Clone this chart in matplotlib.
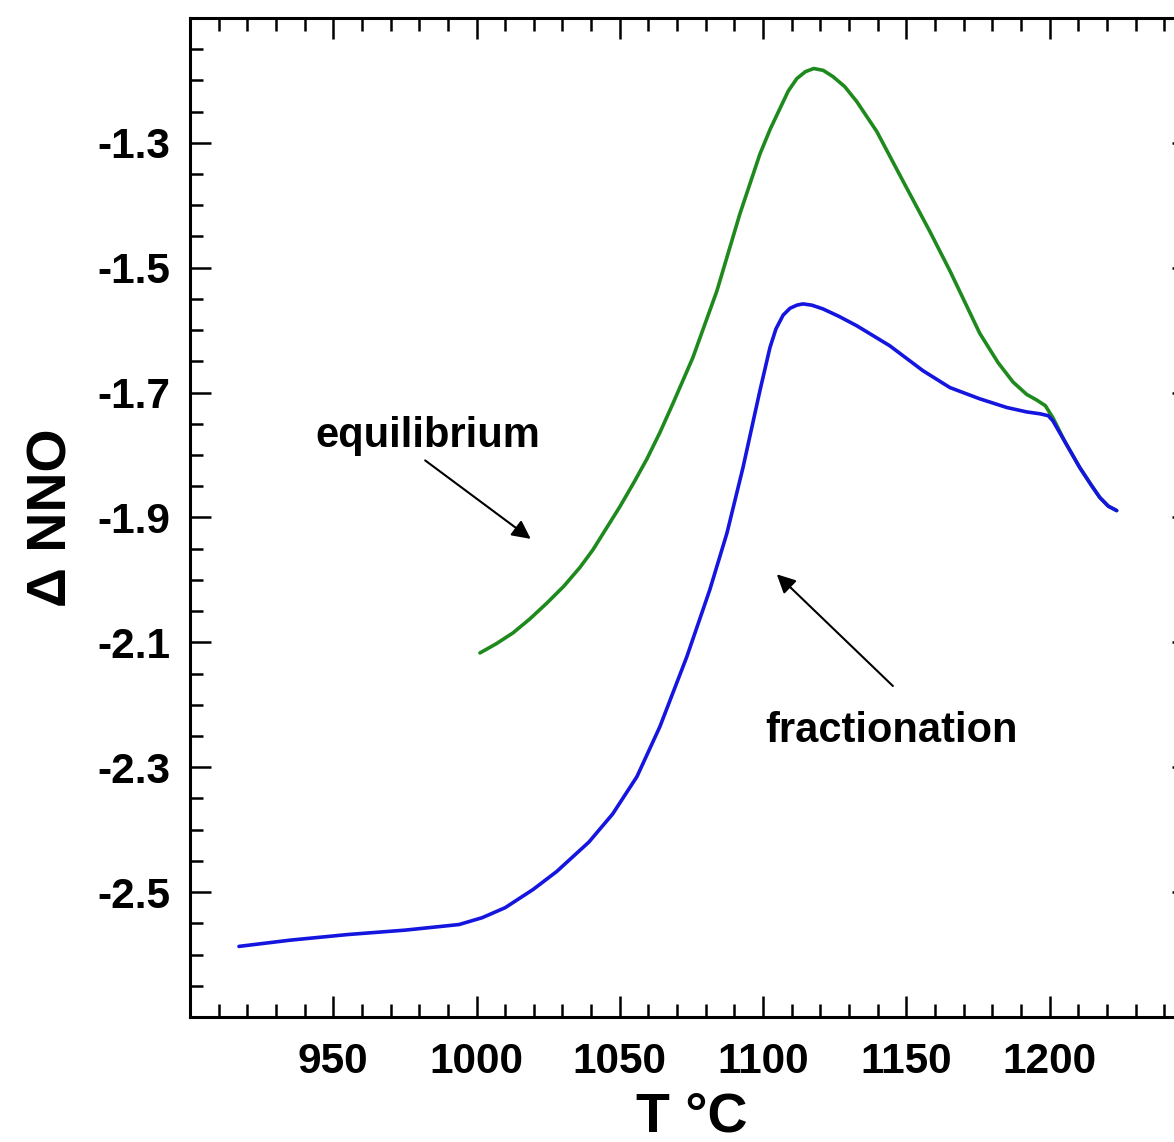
import matplotlib
matplotlib.use("Agg")
import matplotlib.pyplot as plt
from matplotlib.ticker import MultipleLocator

# equilibrium path (green)
eq_T = [1001.2, 1007.0, 1012.7, 1018.5, 1024.6, 1030.5, 1036.1, 1040.6, 1045.5,
        1050.0, 1054.8, 1059.5, 1064.0, 1068.5, 1075.5, 1083.9, 1091.9, 1098.9,
        1102.5, 1105.9, 1108.8, 1111.8, 1114.8, 1117.7, 1121.0, 1124.4, 1128.5,
        1132.7, 1139.7, 1148.8, 1158.2, 1165.2, 1175.6, 1182.0, 1187.2, 1192.0,
        1195.5, 1198.5, 1201.1, 1205.5, 1210.5, 1214.5, 1217.5, 1220.5, 1223.4]
eq_nno = [-2.117, -2.102, -2.085, -2.063, -2.037, -2.010, -1.980, -1.952, -1.916,
          -1.883, -1.845, -1.806, -1.764, -1.718, -1.644, -1.537, -1.414, -1.318,
          -1.278, -1.245, -1.217, -1.197, -1.186, -1.181, -1.184, -1.194, -1.210,
          -1.234, -1.282, -1.361, -1.442, -1.505, -1.605, -1.652, -1.683, -1.703,
          -1.712, -1.721, -1.740, -1.780, -1.820, -1.848, -1.868, -1.882, -1.889]

# fractional crystallisation path (blue)
fr_T = [917.1, 935.0, 955.1, 975.0, 993.9, 1002.0, 1010.0, 1019.7, 1028.0,
        1039.2, 1047.5, 1056.0, 1064.0, 1073.4, 1081.4, 1087.4, 1093.0, 1098.9,
        1102.4, 1104.5, 1107.0, 1109.4, 1111.8, 1113.9, 1117.0, 1120.9, 1126.5,
        1132.7, 1144.2, 1155.8, 1165.2, 1175.6, 1185.1, 1192.0, 1196.6, 1199.5,
        1201.1, 1205.5, 1210.5, 1214.5, 1217.5, 1220.5, 1223.4]
fr_nno = [-2.587, -2.577, -2.568, -2.561, -2.552, -2.541, -2.525, -2.496, -2.467,
          -2.420, -2.375, -2.315, -2.235, -2.123, -2.016, -1.925, -1.820, -1.697,
          -1.628, -1.598, -1.576, -1.565, -1.560, -1.558, -1.560, -1.566, -1.578,
          -1.593, -1.625, -1.665, -1.692, -1.710, -1.724, -1.731, -1.734, -1.737,
          -1.745, -1.780, -1.820, -1.848, -1.868, -1.882, -1.889]

x_ticks = [950, 1000, 1050, 1100, 1150, 1200]
y_ticks = [-2.5, -2.3, -2.1, -1.9, -1.7, -1.5, -1.3]
y_ticklabels = ["-2.5", "-2.3", "-2.1", "-1.9", "-1.7", "-1.5", "-1.3"]

plt.rcParams["font.family"] = ["Liberation Sans", "DejaVu Sans"]
plt.rcParams["font.weight"] = "bold"
plt.rcParams["axes.unicode_minus"] = False

fig = plt.figure(figsize=(11.74, 11.42), dpi=100)
# right spine sits just past the figure edge, as in the cropped original
ax = fig.add_axes([0.1618, 0.1095, 0.8543, 0.8748])

ax.plot(eq_T, eq_nno, color="#1e8a1e", lw=2.6, solid_joinstyle="round",
        solid_capstyle="round")
ax.plot(fr_T, fr_nno, color="#1515e0", lw=2.6, solid_joinstyle="round",
        solid_capstyle="round")

ax.set_xlim(900, 1250)
ax.set_ylim(-2.7, -1.1)
ax.set_xticks(x_ticks)
ax.set_xticklabels([str(t) for t in x_ticks])
ax.set_yticks(y_ticks)
ax.set_yticklabels(y_ticklabels)
ax.xaxis.set_minor_locator(MultipleLocator(10))
ax.yaxis.set_minor_locator(MultipleLocator(0.05))

ax.tick_params(which="both", direction="in", top=True, right=True, width=1.8)
ax.tick_params(which="major", length=15)
ax.tick_params(which="minor", length=9.5)
ax.tick_params(axis="x", which="major", labelsize=30.5, pad=18)
ax.tick_params(axis="y", which="major", labelsize=30.5, pad=14)
for lab in ax.get_xticklabels() + ax.get_yticklabels():
    lab.set_fontweight("bold")
for sp in ax.spines.values():
    sp.set_linewidth(2.2)

ax.set_xlabel("T °C", fontsize=40, fontweight="bold", labelpad=7)
ax.set_ylabel("Δ NNO", fontsize=40, fontweight="bold", labelpad=14)

arrow = dict(arrowstyle="-|>", color="black", lw=1.5, mutation_scale=28)
ax.annotate("", xy=(1019.7, -1.937), xytext=(981.3, -1.806), arrowprops=arrow)
ax.annotate("", xy=(1104.1, -1.988), xytext=(1146.0, -2.173), arrowprops=arrow)
ax.text(983.0, -1.787, "equilibrium", fontsize=30, fontweight="bold",
        ha="center", va="baseline")
ax.text(1144.9, -2.259, "fractionation", fontsize=30, fontweight="bold",
        ha="center", va="baseline")

fig.savefig("out.png", dpi=100)
